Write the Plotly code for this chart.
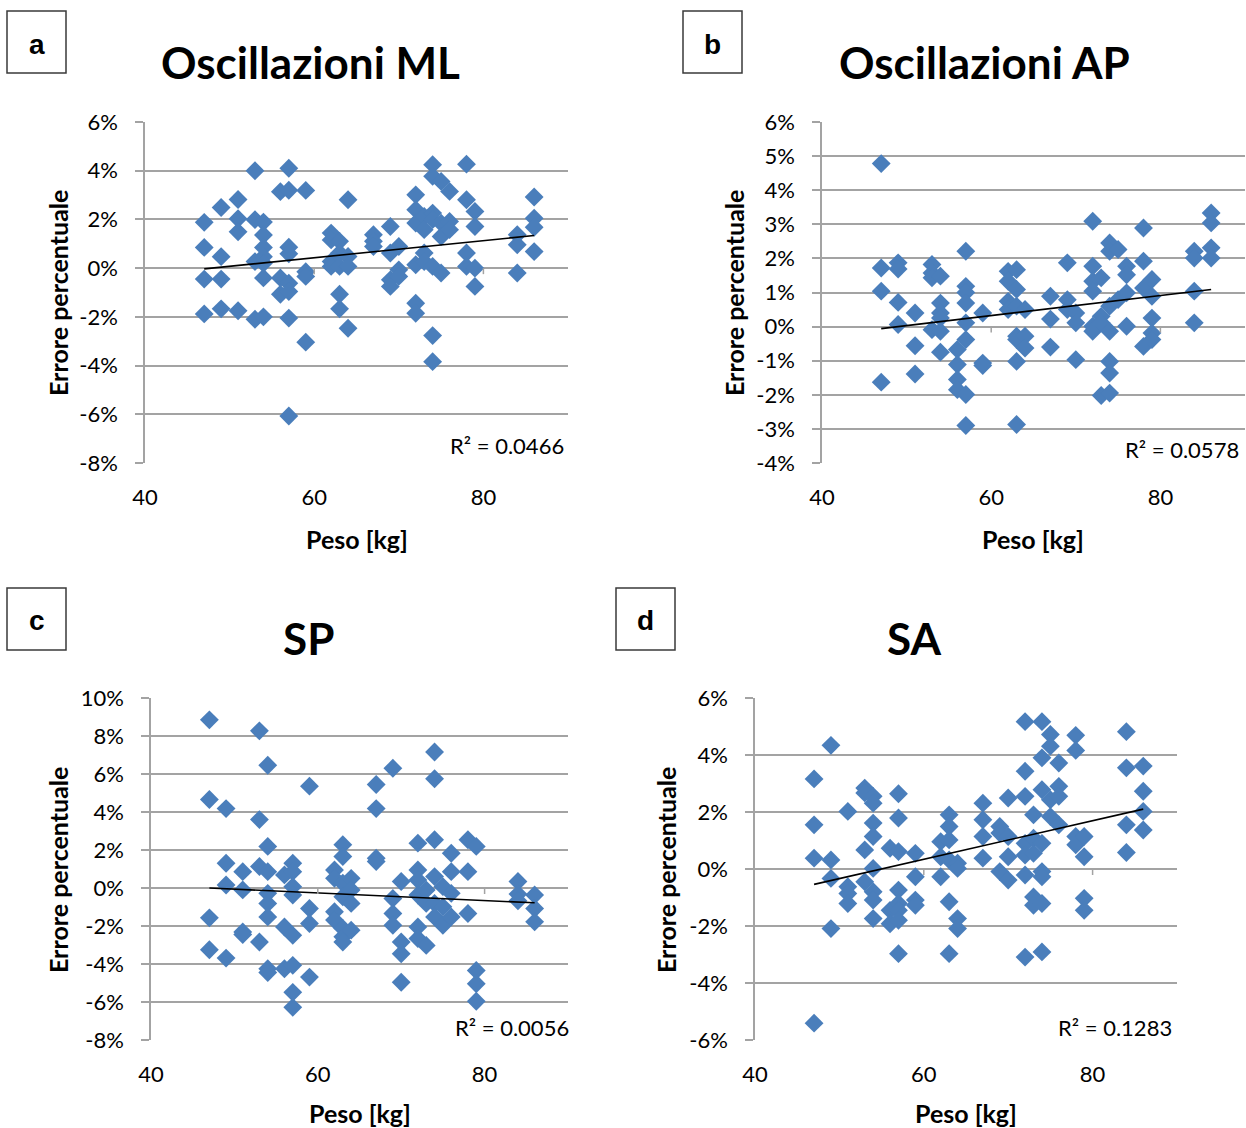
import plotly.graph_objects as go

W, H = 1246, 1128

# ---------------- data ----------------
peso_kg = [47, 49, 51, 53, 54, 56, 57, 59, 62, 63, 64, 67, 69, 70, 72, 73, 74, 75, 76, 78, 79, 84, 86]

# Errore percentuale [%] grouped by weight level (same order as peso_kg)
err_ml = [
    [1.88, 0.85, -0.45, -1.88],
    [2.49, 0.47, -0.45, -1.67],
    [2.82, 2.03, 1.49, -1.75],
    [4.0, 1.99, 0.27, -2.1],
    [1.89, 1.36, 0.85, 0.47, 0.2, -0.4, -2.0],
    [3.14, -0.4, -1.07],
    [4.1, 3.2, 0.86, 0.59, -0.62, -0.96, -2.05, -6.07],
    [3.19, -0.15, -0.34, -3.04],
    [1.44, 1.16, 0.27, 0.07],
    [1.1, 0.62, 0.07, -1.07, -1.67],
    [2.81, 0.48, 0.07, -2.47],
    [1.37, 1.1, 0.89],
    [1.71, 0.62, -0.48, -0.75],
    [0.89, -0.07, -0.34],
    [3.01, 2.4, 1.85, 0.14, -1.44, -1.85],
    [2.12, 1.58, 0.62, 0.27],
    [4.25, 3.77, 2.26, 1.99, 0.07, -2.77, -3.84],
    [3.56, 1.85, 1.3, -0.2],
    [3.15, 1.92, 1.58],
    [4.27, 2.81, 0.62, 0.07],
    [2.33, 1.71, 0.0, -0.75],
    [1.37, 0.96, -0.2],
    [2.92, 2.05, 1.68, 0.68],
]

err_ap = [
    [4.78, 1.72, 1.04, -1.63],
    [1.87, 1.69, 0.71, 0.06],
    [0.4, -0.56, -1.39],
    [1.82, 1.57, 1.43, -0.09],
    [1.48, 0.69, 0.4, 0.25, -0.14, -0.75],
    [-0.67, -1.11, -1.55, -1.85],
    [2.21, 1.18, 1.0, 0.69, 0.11, -0.38, -1.99, -2.9],
    [0.4, -1.07, -1.14],
    [1.62, 1.33, 0.74, 0.5],
    [1.67, 1.09, 0.6, -0.28, -0.38, -1.02, -2.87],
    [0.5, -0.28, -0.63],
    [0.89, 0.22, -0.6],
    [1.87, 0.79, 0.5],
    [0.4, 0.11, -0.97],
    [3.09, 1.77, 1.33, 1.04, 0.01, -0.14],
    [1.43, 0.3, 0.11, -2.02],
    [2.45, 2.21, 0.6, -0.14, -1.02, -1.36, -1.95],
    [2.26, 0.79],
    [1.77, 1.52, 0.99, 0.01],
    [2.89, 1.92, 1.13, -0.58],
    [1.38, 0.89, 0.25, -0.19, -0.38],
    [2.21, 2.01, 1.04, 0.11],
    [3.33, 3.04, 2.31, 2.01],
]

err_sp = [
    [8.85, 4.66, -1.57, -3.25],
    [4.18, 1.3, 0.16, -3.69],
    [0.86, -0.1, -2.31, -2.45],
    [8.27, 3.6, 1.13, -2.84],
    [6.46, 2.19, 0.86, -0.28, -0.81, -1.52, -4.25, -4.45],
    [0.69, -2.05, -4.25],
    [1.3, 0.86, 0.07, -0.37, -2.49, -4.07, -5.49, -6.28],
    [5.36, -1.08, -1.87, -4.69],
    [0.95, 0.51, -1.25, -1.69],
    [2.28, 1.66, 0.25, -0.46, -2.13, -2.57, -2.84],
    [0.51, -0.1, -0.81, -2.22],
    [5.45, 4.18, 1.57, 1.39],
    [6.3, -0.55, -1.34, -1.96],
    [0.34, -2.84, -3.46, -4.96],
    [2.36, 0.95, 0.42, -0.37, -2.05, -2.66],
    [-0.1, -0.81, -3.02],
    [7.16, 5.75, 2.54, 0.6, -0.81, -1.52],
    [0.07, -0.99, -1.96],
    [1.83, 0.86, -0.28, -1.52],
    [2.54, 0.86, -1.34],
    [2.19, -4.34, -5.04, -5.96],
    [0.34, -0.32, -0.67],
    [-0.37, -1.08, -1.78],
]

err_sa = [
    [3.16, 1.55, 0.38, -5.41],
    [4.34, 0.32, -0.33, -2.09],
    [2.02, -0.62, -0.86, -1.21],
    [2.84, 2.67, 0.67, -0.45],
    [2.55, 2.31, 1.61, 1.14, 0.02, -0.8, -1.09, -1.74],
    [0.73, -1.45, -1.92],
    [2.64, 1.79, 0.61, -0.74, -1.21, -1.45, -1.8, -2.97],
    [0.55, -0.27, -1.09, -1.27],
    [0.96, 0.43, -0.27],
    [1.9, 1.49, 1.02, 0.32, -1.15, -2.97],
    [0.2, 0.02, -1.74, -2.09],
    [2.31, 1.73, 1.14, 0.38],
    [1.49, 1.26, -0.09],
    [2.49, 1.14, 0.43, -0.39],
    [5.17, 3.43, 2.55, 0.9, 0.49, -0.21, -3.09],
    [1.9, 1.08, 0.55, -0.98, -1.27],
    [5.17, 3.9, 2.78, 0.9, -0.09, -0.27, -1.21, -2.91],
    [4.72, 4.31, 2.43, 1.84],
    [3.72, 2.9, 2.55, 1.55],
    [4.69, 4.16, 1.14, 0.85],
    [1.14, 0.43, -1.03, -1.45],
    [4.82, 3.55, 1.55, 0.58],
    [3.61, 2.73, 2.02, 1.37],
]

# linear trend lines (end points)
trend_x = [47, 86]
trend_ml = [-0.03, 1.34]
trend_ap = [-0.06, 1.09]
trend_sp = [0.0, -0.78]
trend_sa = [-0.54, 2.10]

r2_labels = ["R² = 0.0466", "R² = 0.0578", "R² = 0.0056", "R² = 0.1283"]
titles = ["Oscillazioni ML", "Oscillazioni AP", "SP", "SA"]
letters = ["a", "b", "c", "d"]
x_ticks = [40, 60, 80]
y_ranges = [(-8, 6, 2), (-4, 6, 1), (-8, 10, 2), (-6, 6, 2)]
x_title = "Peso [kg]"
y_title = "Errore percentuale"

# ---------------- layout geometry (pixels) ----------------
# plot area: left, right, top, bottom
areas = [(145, 568, 122, 463), (822, 1245, 122, 463),
         (151, 568, 698, 1040), (755, 1177, 698, 1040)]
title_pos = [(310, 62), (985, 62), (308, 638), (914, 638)]
box_pos = [(7, 11, 66, 73), (683, 11, 742, 73), (7, 588, 66, 650), (616, 588, 675, 650)]
ytitle_pos = [(58, 293), (734, 293), (58, 870), (666, 870)]
xtitle_pos = [(357, 539), (1033, 539), (360, 1113), (966, 1113)]
r2_pos = [(566, 446), (1241, 449), (571, 1027), (1174, 1027)]

FONT = "Lato"
GRID = "#A3A3A3"
BLUE = "#4A7EBB"


def px(x):
    return x / W


def py(y):
    return 1 - y / H


fig = go.Figure()
errs = [err_ml, err_ap, err_sp, err_sa]
trends = [trend_ml, trend_ap, trend_sp, trend_sa]
annotations = []
shapes = []

for i in range(4):
    n = "" if i == 0 else str(i + 1)
    xs, ys = [], []
    for kg, vals in zip(peso_kg, errs[i]):
        for v in vals:
            xs.append(kg)
            ys.append(v)
    fig.add_trace(go.Scatter(
        x=xs, y=ys, mode="markers", xaxis="x" + n, yaxis="y" + n,
        marker=dict(symbol="diamond", size=14.5, color=BLUE, line=dict(width=0)),
        showlegend=False, hoverinfo="x+y"))
    fig.add_trace(go.Scatter(
        x=trend_x, y=trends[i], mode="lines", xaxis="x" + n, yaxis="y" + n,
        line=dict(color="black", width=1.6), showlegend=False, hoverinfo="skip"))

    l, r, t, b = areas[i]
    lo, hi, step = y_ranges[i]
    yvals = list(range(lo, hi + 1, step))
    fig.update_layout(**{
        "xaxis" + n: dict(domain=[px(l), px(r)], anchor="y" + n, range=[40, 90],
                          tickvals=x_ticks, ticktext=[str(v) for v in x_ticks],
                          showgrid=False, zeroline=False, showline=False, ticks="",
                          ticklabelstandoff=19, automargin=False,
                          tickfont=dict(family=FONT, size=22, color="black")),
        "yaxis" + n: dict(domain=[py(b), py(t)], anchor="x" + n, range=[lo, hi],
                          tickvals=yvals, ticktext=[f"{v}%" for v in yvals],
                          showgrid=True, gridcolor=GRID, gridwidth=1.5,
                          zeroline=False, showline=True, linecolor=GRID, linewidth=1.5,
                          ticks="outside", ticklen=8, tickcolor=GRID, tickwidth=1.5,
                          ticklabelstandoff=13, automargin=False,
                          tickfont=dict(family=FONT, size=22, color="black")),
    })

    # small tick marks on the 0 line (horizontal axis crossing)
    for tv in x_ticks[1:]:
        shapes.append(dict(type="line", xref="x" + n, yref="y" + n,
                           x0=tv, x1=tv, ysizemode="pixel", yanchor=0, y0=0, y1=-6,
                           line=dict(color=GRID, width=1.5)))

    # letter box
    bx0, by0, bx1, by1 = box_pos[i]
    shapes.append(dict(type="rect", xref="paper", yref="paper",
                       x0=px(bx0), x1=px(bx1), y0=py(by1), y1=py(by0),
                       line=dict(color="#3a3a3a", width=1.5), fillcolor="rgba(0,0,0,0)"))
    annotations.append(dict(text=f"<b>{letters[i]}</b>", xref="paper", yref="paper",
                            x=px((bx0 + bx1) / 2), y=py((by0 + by1) / 2 + 2),
                            xanchor="center", yanchor="middle", showarrow=False,
                            font=dict(family="Liberation Sans", size=28, color="black")))
    # title
    annotations.append(dict(text=f"<b>{titles[i]}</b>", xref="paper", yref="paper",
                            x=px(title_pos[i][0]), y=py(title_pos[i][1]),
                            xanchor="center", yanchor="middle", showarrow=False,
                            font=dict(family=FONT, size=44, color="black")))
    # axis titles
    annotations.append(dict(text=f"<b>{y_title}</b>", xref="paper", yref="paper",
                            x=px(ytitle_pos[i][0]), y=py(ytitle_pos[i][1]),
                            xanchor="center", yanchor="middle", showarrow=False, textangle=-90,
                            font=dict(family=FONT, size=25, color="black")))
    annotations.append(dict(text=f"<b>{x_title}</b>", xref="paper", yref="paper",
                            x=px(xtitle_pos[i][0]), y=py(xtitle_pos[i][1]),
                            xanchor="center", yanchor="middle", showarrow=False,
                            font=dict(family=FONT, size=25, color="black")))
    # R^2 label
    annotations.append(dict(text=r2_labels[i], xref="paper", yref="paper",
                            x=px(r2_pos[i][0]), y=py(r2_pos[i][1]),
                            xanchor="right", yanchor="middle", showarrow=False,
                            font=dict(family=FONT, size=22, color="black")))

fig.update_layout(width=W, height=H, margin=dict(l=0, r=0, t=0, b=0, pad=0, autoexpand=False),
                  paper_bgcolor="white", plot_bgcolor="white",
                  annotations=annotations, shapes=shapes,
                  font=dict(family=FONT, color="black"))

fig.write_html("out.html", config={"displayModeBar": False},
               post_script="document.body.style.margin='0px';")
